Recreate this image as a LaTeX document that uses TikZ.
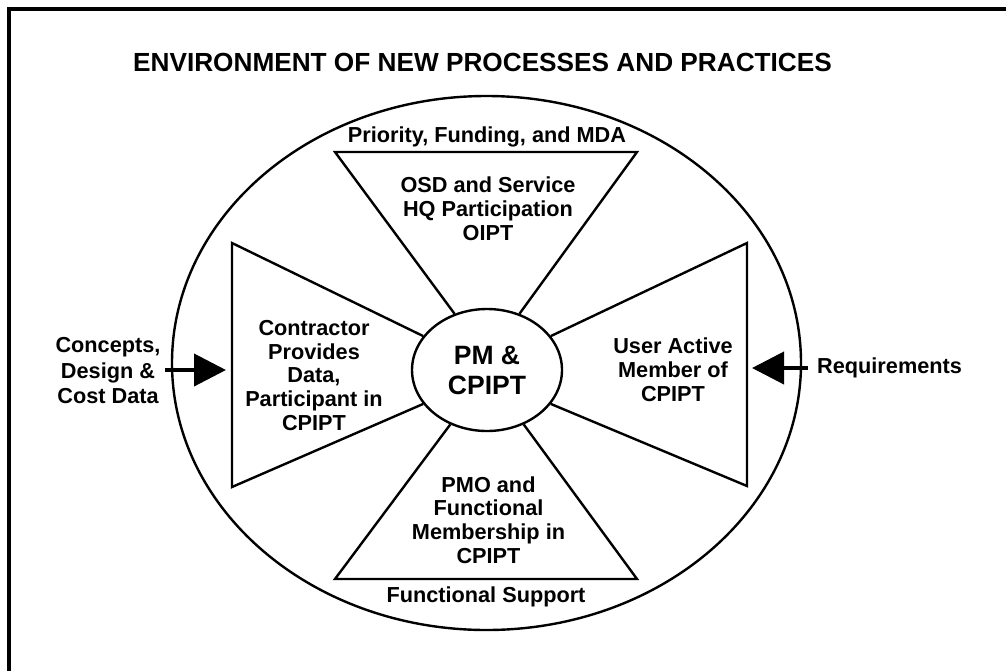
\documentclass[tikz,border=0pt]{standalone}
\usepackage{fontspec}
\setmainfont{Liberation Sans}
\usetikzlibrary{shapes.geometric,arrows.meta}
\tikzset{
  shape line/.style={line width=2.4pt, line join=miter},
  label text/.style={align=center, inner sep=0pt, font=\fontsize{21.7}{23.8}\selectfont\bfseries},
  big arrow/.style={line width=4pt, -{Triangle[length=32pt,width=32pt]}},
}
\begin{document}
\begin{tikzpicture}[x=1pt,y=-1pt]
\useasboundingbox (0,0) rectangle (1006,670);
\clip (0,0) rectangle (1006,670);
% frame
\draw[line width=3.5pt] (9,690) -- (9,9) -- (1030,9);
% title
\node[label text, font=\fontsize{26.2}{28}\selectfont\bfseries, anchor=center] (title) at (482.5,62) {ENVIRONMENT OF NEW PROCESSES AND PRACTICES};
% environment ellipse
\node[ellipse, draw, shape line, minimum width=629pt, minimum height=534pt, inner sep=0pt] (env) at (486.5,363) {};
% central ellipse
\node[ellipse, draw, shape line, minimum width=150pt, minimum height=122pt, inner sep=0pt,
      align=center, font=\fontsize{26.5}{30}\selectfont\bfseries] (pm) at (487,370) {PM \&\\CPIPT};
% corner coordinates
\coordinate (tl) at (335,152); \coordinate (tr) at (637,152);
\coordinate (bl) at (335,579); \coordinate (br) at (637,579);
\coordinate (lt) at (232,243); \coordinate (lb) at (232,487);
\coordinate (rt) at (747,243); \coordinate (rb) at (747,486);
% trapezoids
\draw[shape line] (pm.120) -- (tl) -- (tr) -- (pm.60);
\draw[shape line] (pm.236) -- (bl) -- (br) -- (pm.304);
\draw[shape line] (pm.152) -- (lt) -- (lb) -- (pm.208);
\draw[shape line] (pm.28) -- (rt) -- (rb) -- (pm.-28);
% labels
\node[label text] (prio) at (487,137) {Priority, Funding, and MDA};
\node[label text] (osd) at (488,208.5) {OSD and Service\\HQ Participation\\OIPT};
\node[label text] (contr) at (314,375.5) {Contractor\\Provides\\Data,\\Participant in\\CPIPT};
\node[label text] (user) at (673,369.5) {User Active\\Member of\\CPIPT};
\node[label text] (pmo) at (488.5,520) {PMO and\\Functional\\Membership in\\CPIPT};
\node[label text] (fsup) at (486,597) {Functional Support};
\node[label text, font=\fontsize{21.7}{25.5}\selectfont\bfseries] (concepts) at (108,371) {Concepts,\\Design \&\\Cost Data};
\node[label text, anchor=west] (req) at (817,367.5) {Requirements};
% arrows
\coordinate (la0) at (165,370); \coordinate (la1) at (226,370);
\coordinate (ra0) at (808,368); \coordinate (ra1) at (752,368);
\draw[big arrow] (la0) -- (la1);
\draw[big arrow] (ra0) -- (ra1);
\end{tikzpicture}
\end{document}
